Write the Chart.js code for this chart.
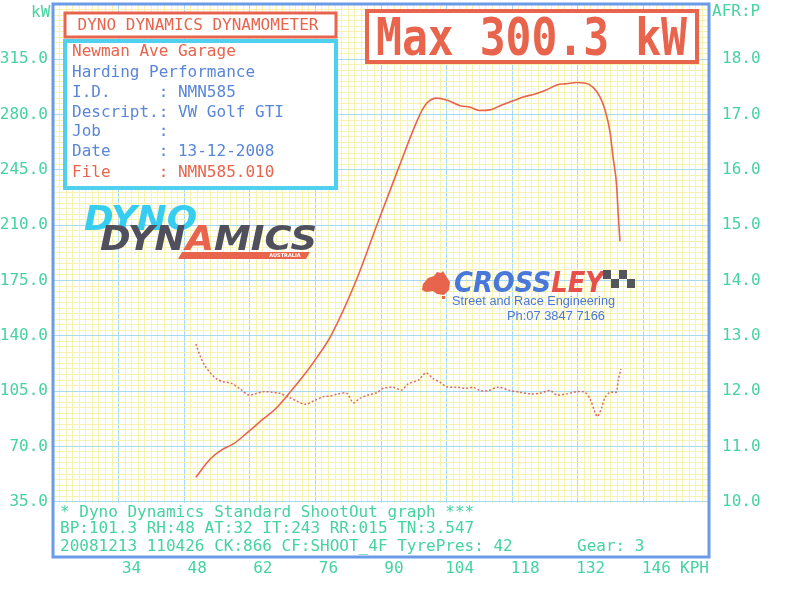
<!DOCTYPE html>
<html>
<head>
<meta charset="utf-8">
<script src="https://cdn.jsdelivr.net/npm/chart.js@4.4.1/dist/chart.umd.min.js"></script>
<style>
  html, body { margin: 0; padding: 0; background: #fff; }
</style>
</head>
<body>
<canvas id="dyno" width="800" height="594"></canvas>
<script>
// power run (KPH / kW)
const powerKph = [50.5, 53.5, 56.0, 58.4, 61.6, 64.8, 67.4, 70.8, 73.4, 76.3, 79.3, 84.7, 89.1, 93.6, 98.3, 99.8, 101.9, 104.0, 106.9, 109.0, 111.1, 113.3, 115.4, 118.2, 120.3, 122.9, 125.4, 127.5, 129.6, 131.8, 133.5, 135.2, 136.7, 137.8, 138.9, 139.5, 140.3, 140.6, 141.0];
const powerKw = [50.5, 61.9, 67.8, 71.4, 79.0, 87.2, 93.5, 105.0, 114.5, 126.2, 140.0, 175.0, 210.0, 245.0, 280.0, 287.3, 290.4, 289.3, 285.6, 284.7, 282.6, 283.0, 285.6, 288.7, 291.1, 293.1, 295.7, 298.8, 299.5, 300.3, 300.0, 297.4, 291.4, 283.0, 268.5, 253.5, 234.6, 218.0, 199.8];

// air/fuel ratio trace
const afrKph = [50.5, 51.4, 52.4, 53.5, 54.9, 56.3, 58.1, 59.9, 61.7, 63.1, 64.9, 66.7, 68.4, 70.6, 72.0, 73.8, 75.6, 77.7, 79.1, 80.9, 82.7, 84.1, 85.5, 87.3, 89.1, 90.5, 92.6, 94.4, 95.8, 98.0, 99.6, 101.2, 102.6, 104.0, 106.2, 108.3, 109.7, 111.1, 112.9, 115.0, 117.5, 119.7, 121.8, 123.9, 126.1, 127.5, 129.6, 131.8, 133.5, 134.6, 135.7, 136.2, 137.1, 137.8, 138.9, 140.2, 140.6, 141.2];
const afrValues = [12.85, 12.64, 12.46, 12.34, 12.22, 12.17, 12.14, 12.04, 11.93, 11.95, 11.99, 11.98, 11.96, 11.88, 11.82, 11.76, 11.82, 11.90, 11.91, 11.95, 11.96, 11.79, 11.87, 11.93, 11.97, 12.05, 12.07, 12.02, 12.13, 12.20, 12.33, 12.22, 12.16, 12.08, 12.07, 12.05, 12.07, 12.01, 12.01, 12.07, 12.01, 11.98, 11.95, 11.96, 12.01, 11.93, 11.95, 11.99, 11.98, 11.86, 11.61, 11.54, 11.70, 11.88, 11.98, 11.98, 12.19, 12.40];

// tick labels
const kphLabels = [34, 48, 62, 76, 90, 104, 118, 132, 146];
const kwLabels = [35, 70, 105, 140, 175, 210, 245, 280, 315];
const afrLabels = [10, 11, 12, 13, 14, 15, 16, 17, 18];

const infoLines = [
    ['Newman Ave Garage', 'red'],
    ['Harding Performance', 'blue'],
    ['I.D.     : NMN585', 'blue'],
    ['Descript.: VW Golf GTI', 'blue'],
    ['Job      :', 'blue'],
    ['Date     : 13-12-2008', 'blue'],
    ['File     : NMN585.010', 'red']
];
const footLines = [
    '* Dyno Dynamics Standard ShootOut graph ***',
    'BP:101.3 RH:48 AT:32 IT:243 RR:015 TN:3.547',
    '20081213 110426 CK:866 CF:SHOOT_4F TyrePres: 42'
];

const RED = '#e8644c';
const BLUE = '#5a86d8';
const TEAL = '#45d3a0';
const CYAN = '#4fd0ef';
const FRAME = '#6b9be6';
const MONO = '"DejaVu Sans Mono", "Liberation Mono", monospace';

const near = (a, b) => Math.abs(a - b) < 1e-6;
const isIn = (list, v) => list.some(k => near(k, v));

// builds minor grid ticks (10 per major division)
function gridTicks(min, step, count) {
    const out = [];
    for (let i = 0; i <= count; i++) out.push({ value: +(min + i * step).toFixed(4) });
    return out;
}

function isMajor(v, start, step) {
    const f = ((v - start) / step) % 1;
    return near(f, 0) || near(f, 1);
}

// draw text stretched to fill a given box
function fitText(ctx, parts, x, base, width, capH, font) {
    ctx.save();
    ctx.font = font;
    ctx.textAlign = 'left';
    ctx.textBaseline = 'alphabetic';
    const full = parts.map(p => p[0]).join('');
    const w = ctx.measureText(full).width;
    const asc = ctx.measureText('H').actualBoundingBoxAscent || 70;
    ctx.translate(x, base);
    ctx.scale(width / w, capH / asc);
    let cx = 0;
    parts.forEach(p => {
        ctx.fillStyle = p[1];
        ctx.fillText(p[0], cx, 0);
        cx += ctx.measureText(p[0]).width;
    });
    ctx.restore();
}

// keep the plot area fixed regardless of label sizes
function noPad(s) {
    s.paddingTop = 0;
    s.paddingBottom = 0;
    s.paddingLeft = 0;
    s.paddingRight = 0;
}

const sheetPlugin = {
    id: 'sheet',
    beforeDatasetsDraw(chart) {
        const ctx = chart.ctx;
        const a = chart.chartArea;
        const y35 = chart.scales.y.getPixelForValue(35);
        ctx.save();
        // footer strip
        ctx.fillStyle = '#fff';
        ctx.fillRect(a.left, Math.round(y35) + 1, a.right - a.left, a.bottom - y35);

        // title box
        ctx.fillRect(65, 13, 271, 24);
        ctx.strokeStyle = RED;
        ctx.lineWidth = 3;
        ctx.strokeRect(65, 13, 271, 24);
        ctx.font = '16px ' + MONO;
        ctx.fillStyle = RED;
        ctx.textBaseline = 'middle';
        ctx.textAlign = 'center';
        ctx.fillText('DYNO DYNAMICS DYNAMOMETER', 198, 25.5);

        // info box
        ctx.fillStyle = '#fff';
        ctx.fillRect(65, 41, 271, 147);
        ctx.strokeStyle = CYAN;
        ctx.lineWidth = 4;
        ctx.strokeRect(65, 41, 271, 147);
        ctx.textAlign = 'left';
        const ys = [52, 73, 93, 112.5, 132, 151.5, 173];
        infoLines.forEach((l, i) => {
            ctx.fillStyle = l[1] === 'red' ? RED : BLUE;
            ctx.fillText(l[0], 72, ys[i]);
        });

        // max box
        ctx.fillStyle = '#fff';
        ctx.fillRect(367, 11, 330, 51);
        ctx.strokeStyle = RED;
        ctx.lineWidth = 4;
        ctx.strokeRect(367, 11, 330, 51);
        fitText(ctx, [['Max 300.3 kW', RED]], 376, 55, 311, 38, 'bold 100px ' + MONO);

        // Dyno Dynamics logo
        ctx.fillStyle = RED;
        ctx.beginPath();
        ctx.moveTo(182, 252); ctx.lineTo(310, 252); ctx.lineTo(306, 259); ctx.lineTo(178, 259);
        ctx.closePath();
        ctx.fill();
        fitText(ctx, [['DYNO', '#36cdf0']], 84, 230, 113, 25, 'italic bold 100px "DejaVu Sans"');
        fitText(ctx, [['DYN', '#50505c'], ['A', RED], ['MICS', '#50505c']], 100, 250, 217, 24, 'italic bold 100px "DejaVu Sans"');
        ctx.font = 'bold 5px "DejaVu Sans"';
        ctx.fillStyle = '#fff';
        ctx.textAlign = 'center';
        ctx.fillText('AUSTRALIA', 285, 255.5);

        // Crossley logo
        ctx.fillStyle = RED;
        ctx.beginPath();
        ctx.moveTo(423, 284); ctx.lineTo(428, 278); ctx.lineTo(434, 276); ctx.lineTo(437, 272);
        ctx.lineTo(441, 273); ctx.lineTo(443, 271); ctx.lineTo(446, 276); ctx.lineTo(450, 282);
        ctx.lineTo(449, 290); ctx.lineTo(444, 295); ctx.lineTo(437, 294); ctx.lineTo(433, 291);
        ctx.lineTo(426, 292); ctx.lineTo(422, 290);
        ctx.closePath();
        ctx.fill();
        ctx.fillRect(442, 296, 3, 3);
        fitText(ctx, [['CROSS', '#4a78d8'], ['LEY', '#e8504c']], 454, 292, 150, 21, 'italic bold 100px "DejaVu Sans"');
        ctx.fillStyle = '#55555e';
        for (let r = 0; r < 2; r++) {
            for (let c = 0; c < 4; c++) {
                if ((r + c) % 2 === 0) ctx.fillRect(603 + c * 8, 270 + r * 9, 8, 9);
            }
        }
        fitText(ctx, [['Street and Race Engineering', '#4a78d8']], 452, 305, 163, 9, '100px "Liberation Sans"');
        fitText(ctx, [['Ph:07 3847 7166', '#4a78d8']], 507, 320, 98, 9, '100px "Liberation Sans"');

        // footer text
        ctx.font = '16px ' + MONO;
        ctx.textAlign = 'left';
        ctx.textBaseline = 'middle';
        ctx.fillStyle = TEAL;
        const fy = [512.5, 528.5, 546.5];
        footLines.forEach((t, i) => ctx.fillText(t, 60, fy[i]));
        ctx.fillText('Gear: 3', 577, fy[2]);
        ctx.restore();
    },
    afterDraw(chart) {
        const ctx = chart.ctx;
        const a = chart.chartArea;
        ctx.save();
        ctx.strokeStyle = FRAME;
        ctx.lineWidth = 3;
        ctx.strokeRect(a.left, a.top, a.right - a.left, a.bottom - a.top);
        ctx.font = '16px ' + MONO;
        ctx.fillStyle = TEAL;
        ctx.textBaseline = 'middle';
        ctx.textAlign = 'left';
        ctx.fillText('kW', 31, 13);
        ctx.fillText('AFR:P', 712, 12);
        ctx.fillText('KPH', 680, 568.5);
        ctx.restore();
    }
};

const gridColor = major => major ? '#a6daef' : '#f6f2b0';

new Chart(document.getElementById('dyno'), {
    type: 'line',
    data: {
        datasets: [{
            label: 'Power',
            data: powerKph.map((k, i) => ({ x: k, y: powerKw[i] })),
            yAxisID: 'y',
            borderColor: RED,
            borderWidth: 1.6,
            pointRadius: 0,
            cubicInterpolationMode: 'monotone',
            fill: false
        }, {
            label: 'AFR',
            data: afrKph.map((k, i) => ({ x: k, y: afrValues[i] })),
            yAxisID: 'y1',
            borderColor: '#dc6a5c',
            borderWidth: 1.5,
            borderDash: [2, 2],
            pointRadius: 0,
            tension: 0.3,
            fill: false
        }]
    },
    options: {
        responsive: false,
        animation: false,
        devicePixelRatio: 1,
        layout: { padding: { top: 4, left: 0, right: 0, bottom: 0 } },
        plugins: {
            legend: { display: false },
            tooltip: { enabled: false }
        },
        scales: {
            x: {
                type: 'linear',
                min: 20,
                max: 160,
                afterBuildTicks: s => { s.ticks = gridTicks(20, 1.4, 100); },
                afterFit: s => { s.height = 37; noPad(s); },
                border: { display: false },
                grid: {
                    drawTicks: false,
                    color: c => gridColor(isMajor(c.tick.value, 20, 14))
                },
                ticks: {
                    autoSkip: false,
                    maxRotation: 0,
                    padding: 2,
                    labelOffset: 13,
                    color: TEAL,
                    font: { family: MONO, size: 16 },
                    callback: v => isIn(kphLabels, v) ? String(Math.round(v)) : ''
                }
            },
            y: {
                position: 'left',
                min: 0,
                max: 350,
                afterBuildTicks: s => { s.ticks = gridTicks(0, 3.5, 100); },
                afterFit: s => { s.width = 53; noPad(s); },
                border: { display: false },
                grid: {
                    drawTicks: false,
                    color: c => gridColor(isMajor(c.tick.value, 0, 35))
                },
                ticks: {
                    autoSkip: false,
                    padding: 5,
                    color: TEAL,
                    font: { family: MONO, size: 16 },
                    callback: v => isIn(kwLabels, v) ? v.toFixed(1) : ''
                }
            },
            y1: {
                position: 'right',
                min: 9,
                max: 19,
                afterFit: s => { s.width = 91; noPad(s); },
                border: { display: false },
                grid: { display: false, drawTicks: false },
                ticks: {
                    stepSize: 1,
                    autoSkip: false,
                    padding: 13,
                    color: TEAL,
                    font: { family: MONO, size: 16 },
                    callback: v => isIn(afrLabels, v) ? v.toFixed(1) : ''
                }
            }
        }
    },
    plugins: [sheetPlugin]
});
</script>
</body>
</html>
